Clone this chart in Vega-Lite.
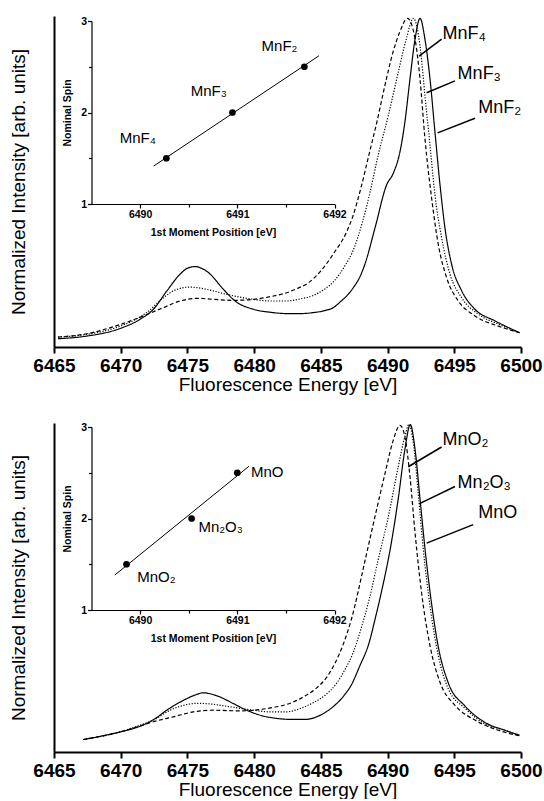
{
  "$schema": "https://vega.github.io/schema/vega-lite/v6.json",
  "padding": {"left": 9, "top": 15, "right": 0, "bottom": 0},
  "spacing": 28,
  "config": {
    "view": {"stroke": null},
    "font": "Liberation Sans",
    "axis": {"grid": false, "domainColor": "black", "tickColor": "black", "labelColor": "black", "titleColor": "black"}
  },
  "datasets": {
    "spec1": [
      {"series": "MnF2", "e": 6465.3, "v": 0.025}, {"series": "MnF2", "e": 6467.46, "v": 0.033}, {"series": "MnF2", "e": 6469.96, "v": 0.056}, {"series": "MnF2", "e": 6471.46, "v": 0.084}, {"series": "MnF2", "e": 6472.45, "v": 0.114}, {"series": "MnF2", "e": 6473.45, "v": 0.169}, {"series": "MnF2", "e": 6474.45, "v": 0.22}, {"series": "MnF2", "e": 6475.0, "v": 0.238}, {"series": "MnF2", "e": 6475.58, "v": 0.243}, {"series": "MnF2", "e": 6476.1, "v": 0.237}, {"series": "MnF2", "e": 6476.57, "v": 0.225}, {"series": "MnF2", "e": 6477.7, "v": 0.174}, {"series": "MnF2", "e": 6478.57, "v": 0.139}, {"series": "MnF2", "e": 6479.94, "v": 0.114}, {"series": "MnF2", "e": 6481.2, "v": 0.105}, {"series": "MnF2", "e": 6482.44, "v": 0.101}, {"series": "MnF2", "e": 6483.5, "v": 0.101}, {"series": "MnF2", "e": 6484.44, "v": 0.104}, {"series": "MnF2", "e": 6485.3, "v": 0.11}, {"series": "MnF2", "e": 6485.94, "v": 0.119}, {"series": "MnF2", "e": 6486.5, "v": 0.138}, {"series": "MnF2", "e": 6486.93, "v": 0.154}, {"series": "MnF2", "e": 6487.43, "v": 0.179}, {"series": "MnF2", "e": 6487.9, "v": 0.21}, {"series": "MnF2", "e": 6488.3, "v": 0.25}, {"series": "MnF2", "e": 6489.06, "v": 0.36}, {"series": "MnF2", "e": 6489.93, "v": 0.49}, {"series": "MnF2", "e": 6490.43, "v": 0.525}, {"series": "MnF2", "e": 6490.93, "v": 0.59}, {"series": "MnF2", "e": 6491.3, "v": 0.68}, {"series": "MnF2", "e": 6491.68, "v": 0.81}, {"series": "MnF2", "e": 6492.06, "v": 0.93}, {"series": "MnF2", "e": 6492.43, "v": 0.993}, {"series": "MnF2", "e": 6492.8, "v": 0.93}, {"series": "MnF2", "e": 6493.18, "v": 0.81}, {"series": "MnF2", "e": 6493.55, "v": 0.65}, {"series": "MnF2", "e": 6493.93, "v": 0.49}, {"series": "MnF2", "e": 6494.3, "v": 0.36}, {"series": "MnF2", "e": 6494.8, "v": 0.25}, {"series": "MnF2", "e": 6495.55, "v": 0.17}, {"series": "MnF2", "e": 6496.55, "v": 0.114}, {"series": "MnF2", "e": 6498.05, "v": 0.079}, {"series": "MnF2", "e": 6499.9, "v": 0.043},
      {"series": "MnF3", "e": 6465.3, "v": 0.03}, {"series": "MnF3", "e": 6467.46, "v": 0.038}, {"series": "MnF3", "e": 6469.96, "v": 0.063}, {"series": "MnF3", "e": 6471.95, "v": 0.104}, {"series": "MnF3", "e": 6473.2, "v": 0.149}, {"series": "MnF3", "e": 6474.2, "v": 0.174}, {"series": "MnF3", "e": 6475.2, "v": 0.181}, {"series": "MnF3", "e": 6476.45, "v": 0.174}, {"series": "MnF3", "e": 6477.95, "v": 0.159}, {"series": "MnF3", "e": 6479.94, "v": 0.144}, {"series": "MnF3", "e": 6481.2, "v": 0.139}, {"series": "MnF3", "e": 6482.44, "v": 0.139}, {"series": "MnF3", "e": 6483.3, "v": 0.144}, {"series": "MnF3", "e": 6484.44, "v": 0.156}, {"series": "MnF3", "e": 6485.3, "v": 0.175}, {"series": "MnF3", "e": 6486.0, "v": 0.2}, {"series": "MnF3", "e": 6486.8, "v": 0.245}, {"series": "MnF3", "e": 6487.4, "v": 0.29}, {"series": "MnF3", "e": 6488.1, "v": 0.375}, {"series": "MnF3", "e": 6488.7, "v": 0.47}, {"series": "MnF3", "e": 6489.3, "v": 0.58}, {"series": "MnF3", "e": 6490.06, "v": 0.7}, {"series": "MnF3", "e": 6490.8, "v": 0.83}, {"series": "MnF3", "e": 6491.4, "v": 0.93}, {"series": "MnF3", "e": 6491.93, "v": 0.993}, {"series": "MnF3", "e": 6492.43, "v": 0.91}, {"series": "MnF3", "e": 6492.8, "v": 0.76}, {"series": "MnF3", "e": 6493.18, "v": 0.61}, {"series": "MnF3", "e": 6493.55, "v": 0.46}, {"series": "MnF3", "e": 6494.05, "v": 0.33}, {"series": "MnF3", "e": 6494.68, "v": 0.22}, {"series": "MnF3", "e": 6495.55, "v": 0.149}, {"series": "MnF3", "e": 6496.8, "v": 0.099}, {"series": "MnF3", "e": 6498.3, "v": 0.069}, {"series": "MnF3", "e": 6499.9, "v": 0.043},
      {"series": "MnF4", "e": 6465.3, "v": 0.03}, {"series": "MnF4", "e": 6467.46, "v": 0.04}, {"series": "MnF4", "e": 6469.96, "v": 0.068}, {"series": "MnF4", "e": 6471.95, "v": 0.098}, {"series": "MnF4", "e": 6473.2, "v": 0.119}, {"series": "MnF4", "e": 6474.45, "v": 0.139}, {"series": "MnF4", "e": 6475.7, "v": 0.147}, {"series": "MnF4", "e": 6476.95, "v": 0.144}, {"series": "MnF4", "e": 6478.45, "v": 0.141}, {"series": "MnF4", "e": 6479.94, "v": 0.144}, {"series": "MnF4", "e": 6481.2, "v": 0.152}, {"series": "MnF4", "e": 6482.44, "v": 0.164}, {"series": "MnF4", "e": 6483.3, "v": 0.178}, {"series": "MnF4", "e": 6484.0, "v": 0.192}, {"series": "MnF4", "e": 6485.0, "v": 0.23}, {"series": "MnF4", "e": 6486.0, "v": 0.285}, {"series": "MnF4", "e": 6486.9, "v": 0.345}, {"series": "MnF4", "e": 6487.4, "v": 0.395}, {"series": "MnF4", "e": 6488.0, "v": 0.48}, {"series": "MnF4", "e": 6488.6, "v": 0.58}, {"series": "MnF4", "e": 6489.2, "v": 0.68}, {"series": "MnF4", "e": 6489.8, "v": 0.79}, {"series": "MnF4", "e": 6490.4, "v": 0.89}, {"series": "MnF4", "e": 6490.9, "v": 0.95}, {"series": "MnF4", "e": 6491.5, "v": 0.993}, {"series": "MnF4", "e": 6492.06, "v": 0.93}, {"series": "MnF4", "e": 6492.43, "v": 0.81}, {"series": "MnF4", "e": 6492.8, "v": 0.63}, {"series": "MnF4", "e": 6493.3, "v": 0.45}, {"series": "MnF4", "e": 6493.8, "v": 0.31}, {"series": "MnF4", "e": 6494.42, "v": 0.21}, {"series": "MnF4", "e": 6495.3, "v": 0.139}, {"series": "MnF4", "e": 6496.55, "v": 0.094}, {"series": "MnF4", "e": 6498.3, "v": 0.063}, {"series": "MnF4", "e": 6499.9, "v": 0.043}
    ],
    "spec2": [
      {"series": "MnO", "e": 6467.2, "v": 0.038}, {"series": "MnO", "e": 6468.5, "v": 0.048}, {"series": "MnO", "e": 6469.96, "v": 0.061}, {"series": "MnO", "e": 6471.0, "v": 0.072}, {"series": "MnO", "e": 6471.95, "v": 0.087}, {"series": "MnO", "e": 6472.7, "v": 0.105}, {"series": "MnO", "e": 6473.45, "v": 0.127}, {"series": "MnO", "e": 6474.7, "v": 0.157}, {"series": "MnO", "e": 6475.5, "v": 0.172}, {"series": "MnO", "e": 6476.2, "v": 0.18}, {"series": "MnO", "e": 6476.8, "v": 0.176}, {"series": "MnO", "e": 6477.45, "v": 0.167}, {"series": "MnO", "e": 6478.45, "v": 0.147}, {"series": "MnO", "e": 6479.44, "v": 0.127}, {"series": "MnO", "e": 6480.94, "v": 0.107}, {"series": "MnO", "e": 6482.94, "v": 0.099}, {"series": "MnO", "e": 6483.8, "v": 0.099}, {"series": "MnO", "e": 6484.69, "v": 0.107}, {"series": "MnO", "e": 6485.5, "v": 0.125}, {"series": "MnO", "e": 6486.18, "v": 0.147}, {"series": "MnO", "e": 6486.8, "v": 0.175}, {"series": "MnO", "e": 6487.3, "v": 0.205}, {"series": "MnO", "e": 6487.9, "v": 0.26}, {"series": "MnO", "e": 6488.6, "v": 0.33}, {"series": "MnO", "e": 6489.1, "v": 0.41}, {"series": "MnO", "e": 6489.56, "v": 0.49}, {"series": "MnO", "e": 6490.3, "v": 0.64}, {"series": "MnO", "e": 6490.8, "v": 0.77}, {"series": "MnO", "e": 6491.3, "v": 0.92}, {"series": "MnO", "e": 6491.7, "v": 0.995}, {"series": "MnO", "e": 6492.06, "v": 0.92}, {"series": "MnO", "e": 6492.43, "v": 0.77}, {"series": "MnO", "e": 6492.8, "v": 0.62}, {"series": "MnO", "e": 6493.3, "v": 0.45}, {"series": "MnO", "e": 6493.8, "v": 0.32}, {"series": "MnO", "e": 6494.55, "v": 0.21}, {"series": "MnO", "e": 6495.8, "v": 0.14}, {"series": "MnO", "e": 6497.3, "v": 0.09}, {"series": "MnO", "e": 6498.8, "v": 0.066}, {"series": "MnO", "e": 6499.9, "v": 0.051},
      {"series": "Mn2O3", "e": 6467.2, "v": 0.038}, {"series": "Mn2O3", "e": 6469.96, "v": 0.061}, {"series": "Mn2O3", "e": 6471.2, "v": 0.078}, {"series": "Mn2O3", "e": 6472.45, "v": 0.097}, {"series": "Mn2O3", "e": 6473.7, "v": 0.127}, {"series": "Mn2O3", "e": 6474.95, "v": 0.144}, {"series": "Mn2O3", "e": 6475.7, "v": 0.148}, {"series": "Mn2O3", "e": 6476.45, "v": 0.147}, {"series": "Mn2O3", "e": 6477.95, "v": 0.139}, {"series": "Mn2O3", "e": 6479.94, "v": 0.127}, {"series": "Mn2O3", "e": 6481.2, "v": 0.122}, {"series": "Mn2O3", "e": 6482.44, "v": 0.122}, {"series": "Mn2O3", "e": 6483.3, "v": 0.13}, {"series": "Mn2O3", "e": 6484.44, "v": 0.15}, {"series": "Mn2O3", "e": 6485.3, "v": 0.172}, {"series": "Mn2O3", "e": 6486.2, "v": 0.21}, {"series": "Mn2O3", "e": 6486.8, "v": 0.25}, {"series": "Mn2O3", "e": 6487.4, "v": 0.3}, {"series": "Mn2O3", "e": 6488.05, "v": 0.38}, {"series": "Mn2O3", "e": 6488.6, "v": 0.46}, {"series": "Mn2O3", "e": 6489.3, "v": 0.585}, {"series": "Mn2O3", "e": 6490.06, "v": 0.716}, {"series": "Mn2O3", "e": 6490.8, "v": 0.867}, {"series": "Mn2O3", "e": 6491.3, "v": 0.96}, {"series": "Mn2O3", "e": 6491.6, "v": 0.995}, {"series": "Mn2O3", "e": 6491.93, "v": 0.94}, {"series": "Mn2O3", "e": 6492.3, "v": 0.786}, {"series": "Mn2O3", "e": 6492.68, "v": 0.615}, {"series": "Mn2O3", "e": 6493.18, "v": 0.444}, {"series": "Mn2O3", "e": 6493.8, "v": 0.293}, {"series": "Mn2O3", "e": 6494.55, "v": 0.192}, {"series": "Mn2O3", "e": 6495.8, "v": 0.133}, {"series": "Mn2O3", "e": 6497.3, "v": 0.085}, {"series": "Mn2O3", "e": 6498.8, "v": 0.066}, {"series": "Mn2O3", "e": 6499.9, "v": 0.049},
      {"series": "MnO2", "e": 6467.2, "v": 0.038}, {"series": "MnO2", "e": 6469.96, "v": 0.061}, {"series": "MnO2", "e": 6471.2, "v": 0.076}, {"series": "MnO2", "e": 6472.45, "v": 0.092}, {"series": "MnO2", "e": 6473.95, "v": 0.107}, {"series": "MnO2", "e": 6475.45, "v": 0.122}, {"series": "MnO2", "e": 6476.95, "v": 0.127}, {"series": "MnO2", "e": 6478.95, "v": 0.125}, {"series": "MnO2", "e": 6480.94, "v": 0.132}, {"series": "MnO2", "e": 6482.94, "v": 0.152}, {"series": "MnO2", "e": 6483.8, "v": 0.17}, {"series": "MnO2", "e": 6484.69, "v": 0.195}, {"series": "MnO2", "e": 6485.4, "v": 0.225}, {"series": "MnO2", "e": 6486.06, "v": 0.27}, {"series": "MnO2", "e": 6486.7, "v": 0.33}, {"series": "MnO2", "e": 6487.3, "v": 0.405}, {"series": "MnO2", "e": 6488.3, "v": 0.58}, {"series": "MnO2", "e": 6489.06, "v": 0.716}, {"series": "MnO2", "e": 6489.81, "v": 0.847}, {"series": "MnO2", "e": 6490.43, "v": 0.948}, {"series": "MnO2", "e": 6490.93, "v": 0.993}, {"series": "MnO2", "e": 6491.3, "v": 0.958}, {"series": "MnO2", "e": 6491.68, "v": 0.837}, {"series": "MnO2", "e": 6492.06, "v": 0.666}, {"series": "MnO2", "e": 6492.55, "v": 0.484}, {"series": "MnO2", "e": 6493.18, "v": 0.323}, {"series": "MnO2", "e": 6493.93, "v": 0.212}, {"series": "MnO2", "e": 6495.05, "v": 0.142}, {"series": "MnO2", "e": 6496.55, "v": 0.097}, {"series": "MnO2", "e": 6498.3, "v": 0.066}, {"series": "MnO2", "e": 6499.9, "v": 0.049}
    ],
    "labels1": [
      {"label": "MnF₄", "e": 6494.12, "v": 0.945},
      {"label": "MnF₃", "e": 6495.25, "v": 0.824},
      {"label": "MnF₂", "e": 6496.8, "v": 0.723}
    ],
    "leaders1": [
      {"e": 6494.05, "v": 0.93, "e2": 6492.36, "v2": 0.879},
      {"e": 6495.05, "v": 0.804, "e2": 6492.93, "v2": 0.768},
      {"e": 6496.55, "v": 0.691, "e2": 6493.75, "v2": 0.647}
    ],
    "labels2": [
      {"label": "MnO₂", "e": 6494.12, "v": 0.948},
      {"label": "Mn₂O₃", "e": 6495.25, "v": 0.817},
      {"label": "MnO", "e": 6496.8, "v": 0.726}
    ],
    "leaders2": [
      {"e": 6494.05, "v": 0.927, "e2": 6491.55, "v2": 0.867},
      {"e": 6495.05, "v": 0.807, "e2": 6492.36, "v2": 0.754},
      {"e": 6496.42, "v": 0.691, "e2": 6492.93, "v2": 0.635}
    ],
    "inset1": [
      {"name": "MnF₄", "moment": 6490.27, "spin": 1.5},
      {"name": "MnF₃", "moment": 6490.95, "spin": 2.0},
      {"name": "MnF₂", "moment": 6491.69, "spin": 2.5}
    ],
    "fit1": [
      {"moment": 6490.14, "spin": 1.415},
      {"moment": 6491.84, "spin": 2.62}
    ],
    "insetlabels1": [
      {"label": "MnF₄", "moment": 6489.79, "spin": 1.72},
      {"label": "MnF₃", "moment": 6490.52, "spin": 2.235},
      {"label": "MnF₂", "moment": 6491.25, "spin": 2.73}
    ],
    "inset2": [
      {"name": "MnO₂", "moment": 6489.86, "spin": 1.5},
      {"name": "Mn₂O₃", "moment": 6490.53, "spin": 2.0},
      {"name": "MnO", "moment": 6491.0, "spin": 2.5}
    ],
    "fit2": [
      {"moment": 6489.74, "spin": 1.382},
      {"moment": 6491.12, "spin": 2.571}
    ],
    "insetlabels2": [
      {"label": "MnO₂", "moment": 6489.97, "spin": 1.36},
      {"label": "Mn₂O₃", "moment": 6490.6, "spin": 1.91},
      {"label": "MnO", "moment": 6491.14, "spin": 2.51}
    ]
  },
  "vconcat": [
    {
      "width": 467,
      "height": 331,
      "layer": [
        {
          "layer": [
            {
              "data": {"name": "spec1"},
              "mark": {"type": "line", "color": "black", "strokeWidth": 1.2, "interpolate": "monotone"},
              "encoding": {
                "x": {"field": "e", "type": "quantitative", "scale": {"domain": [6465, 6500], "nice": false, "zero": false},
                  "axis": {"title": "Fluorescence Energy [eV]", "values": [6465, 6467.5, 6470, 6472.5, 6475, 6477.5, 6480, 6482.5, 6485, 6487.5, 6490, 6492.5, 6495, 6497.5, 6500],
                    "format": "d", "labelExpr": "datum.value % 5 === 0 ? datum.label : ''", "tickSize": {"condition": {"test": "datum.value % 5 === 0", "value": 6}, "value": 4},
                    "domainWidth": 2, "tickWidth": 2, "labelFontSize": 19, "labelFontWeight": "bold", "labelPadding": 3, "labelFlush": false, "labelOverlap": false,
                    "titleFontSize": 19, "titleFontWeight": "normal", "titlePadding": 0}},
                "y": {"field": "v", "type": "quantitative", "scale": {"domain": [0, 1], "nice": false},
                  "axis": {"title": "Normalized Intensity [arb. units]", "ticks": false, "labels": false, "domainWidth": 2, "titleFontSize": 19, "titleFontWeight": "normal", "titlePadding": 26}},
                "strokeDash": {"field": "series", "type": "nominal", "legend": null, "scale": {"domain": ["MnF2", "MnF3", "MnF4"], "range": [[1, 0], [1.2, 1.6], [4, 2.5]]}}
              }
            },
            {
              "data": {"name": "leaders1"},
              "mark": {"type": "rule", "color": "black", "strokeWidth": 1.5},
              "encoding": {
                "x": {"field": "e", "type": "quantitative"},
                "y": {"field": "v", "type": "quantitative"},
                "x2": {"field": "e2"},
                "y2": {"field": "v2"}
              }
            },
            {
              "data": {"name": "labels1"},
              "mark": {"type": "text", "align": "left", "baseline": "middle", "fontSize": 18, "color": "black"},
              "encoding": {
                "x": {"field": "e", "type": "quantitative"},
                "y": {"field": "v", "type": "quantitative"},
                "text": {"field": "label"}
              }
            }
          ]
        },
        {
          "layer": [
            {
              "data": {"name": "fit1"},
              "mark": {"type": "line", "color": "black", "strokeWidth": 1},
              "encoding": {
                "x": {"field": "moment", "type": "quantitative", "scale": {"domain": [6489.5, 6492], "range": [37.5, 280.5], "nice": false, "zero": false},
                  "axis": {"orient": "bottom", "offset": -143, "title": "1st Moment Position [eV]", "values": [6490, 6491, 6492], "format": "d",
                    "tickSize": 4, "domainWidth": 1.2, "tickWidth": 1.2, "labelFontSize": 10.5, "labelFontWeight": "bold",
                    "labelPadding": 1, "labelFlush": false, "labelOverlap": false, "titleFontSize": 10.5, "titleFontWeight": "bold", "titlePadding": 8}},
                "y": {"field": "spin", "type": "quantitative", "scale": {"domain": [1, 3], "range": [188, 5], "nice": false, "zero": false},
                  "axis": {"orient": "left", "offset": -37.5, "title": "Nominal Spin", "values": [1, 3], "format": "d",
                    "tickSize": 4, "domainWidth": 1.2, "tickWidth": 1.2, "labelFontSize": 10.5, "labelFontWeight": "bold",
                    "labelPadding": 1, "labelOverlap": false, "titleFontSize": 10.5, "titleFontWeight": "bold", "titlePadding": 8}}
              }
            },
            {
              "data": {"name": "inset1"},
              "mark": {"type": "point", "filled": true, "color": "black", "size": 45, "opacity": 1},
              "encoding": {
                "x": {"field": "moment", "type": "quantitative"},
                "y": {"field": "spin", "type": "quantitative"}
              }
            },
            {
              "data": {"name": "insetlabels1"},
              "mark": {"type": "text", "align": "left", "baseline": "middle", "fontSize": 15, "color": "black"},
              "encoding": {
                "x": {"field": "moment", "type": "quantitative"},
                "y": {"field": "spin", "type": "quantitative"},
                "text": {"field": "label"}
              }
            }
          ]
        },
        {
          "data": {"name": "fit1"},
          "mark": {"type": "point", "opacity": 0},
          "encoding": {
            "x": {"field": "moment", "type": "quantitative", "scale": {"domain": [6489.5, 6492], "range": [37.5, 280.5], "nice": false, "zero": false},
              "axis": {"orient": "bottom", "offset": -143, "title": null, "values": [6490.5, 6491.5], "labels": false, "domain": false, "tickSize": 3, "tickWidth": 1.2}},
            "y": {"field": "spin", "type": "quantitative", "scale": {"domain": [1, 3], "range": [188, 5], "nice": false, "zero": false},
              "axis": {"orient": "left", "offset": -37.5, "title": null, "values": [1.5, 2.5], "labels": false, "domain": false, "tickSize": 3, "tickWidth": 1.2}}
          }
        },
        {
          "data": {"name": "fit1"},
          "mark": {"type": "point", "opacity": 0},
          "encoding": {
            "x": {"field": "moment", "type": "quantitative", "scale": {"domain": [6489.5, 6492], "range": [37.5, 280.5], "nice": false, "zero": false}, "axis": null},
            "y": {"field": "spin", "type": "quantitative", "scale": {"domain": [1, 3], "range": [188, 5], "nice": false, "zero": false},
              "axis": {"orient": "left", "offset": -37.5, "title": null, "values": [2], "format": "d", "domain": false, "tickSize": 4, "tickWidth": 1.2,
                "labelFontSize": 10.5, "labelFontWeight": "bold", "labelPadding": 1, "labelOverlap": false}}
          }
        }
      ],
      "resolve": {"scale": {"x": "independent", "y": "independent"}, "axis": {"x": "independent", "y": "independent"}}
    },
    {
      "width": 467,
      "height": 329,
      "layer": [
        {
          "layer": [
            {
              "data": {"name": "spec2"},
              "mark": {"type": "line", "color": "black", "strokeWidth": 1.2, "interpolate": "monotone"},
              "encoding": {
                "x": {"field": "e", "type": "quantitative", "scale": {"domain": [6465, 6500], "nice": false, "zero": false},
                  "axis": {"title": "Fluorescence Energy [eV]", "values": [6465, 6467.5, 6470, 6472.5, 6475, 6477.5, 6480, 6482.5, 6485, 6487.5, 6490, 6492.5, 6495, 6497.5, 6500],
                    "format": "d", "labelExpr": "datum.value % 5 === 0 ? datum.label : ''", "tickSize": {"condition": {"test": "datum.value % 5 === 0", "value": 6}, "value": 4},
                    "domainWidth": 2, "tickWidth": 2, "labelFontSize": 19, "labelFontWeight": "bold", "labelPadding": 3, "labelFlush": false, "labelOverlap": false,
                    "titleFontSize": 19, "titleFontWeight": "normal", "titlePadding": 0}},
                "y": {"field": "v", "type": "quantitative", "scale": {"domain": [0, 1], "nice": false},
                  "axis": {"title": "Normalized Intensity [arb. units]", "ticks": false, "labels": false, "domainWidth": 2, "titleFontSize": 19, "titleFontWeight": "normal", "titlePadding": 26}},
                "strokeDash": {"field": "series", "type": "nominal", "legend": null, "scale": {"domain": ["MnO", "Mn2O3", "MnO2"], "range": [[1, 0], [1.2, 1.6], [4, 2.5]]}}
              }
            },
            {
              "data": {"name": "leaders2"},
              "mark": {"type": "rule", "color": "black", "strokeWidth": 1.5},
              "encoding": {
                "x": {"field": "e", "type": "quantitative"},
                "y": {"field": "v", "type": "quantitative"},
                "x2": {"field": "e2"},
                "y2": {"field": "v2"}
              }
            },
            {
              "data": {"name": "labels2"},
              "mark": {"type": "text", "align": "left", "baseline": "middle", "fontSize": 18, "color": "black"},
              "encoding": {
                "x": {"field": "e", "type": "quantitative"},
                "y": {"field": "v", "type": "quantitative"},
                "text": {"field": "label"}
              }
            }
          ]
        },
        {
          "layer": [
            {
              "data": {"name": "fit2"},
              "mark": {"type": "line", "color": "black", "strokeWidth": 1},
              "encoding": {
                "x": {"field": "moment", "type": "quantitative", "scale": {"domain": [6489.5, 6492], "range": [37.5, 280.5], "nice": false, "zero": false},
                  "axis": {"orient": "bottom", "offset": -142, "title": "1st Moment Position [eV]", "values": [6490, 6491, 6492], "format": "d",
                    "tickSize": 4, "domainWidth": 1.2, "tickWidth": 1.2, "labelFontSize": 10.5, "labelFontWeight": "bold",
                    "labelPadding": 1, "labelFlush": false, "labelOverlap": false, "titleFontSize": 10.5, "titleFontWeight": "bold", "titlePadding": 8}},
                "y": {"field": "spin", "type": "quantitative", "scale": {"domain": [1, 3], "range": [187, 4], "nice": false, "zero": false},
                  "axis": {"orient": "left", "offset": -37.5, "title": "Nominal Spin", "values": [1, 3], "format": "d",
                    "tickSize": 4, "domainWidth": 1.2, "tickWidth": 1.2, "labelFontSize": 10.5, "labelFontWeight": "bold",
                    "labelPadding": 1, "labelOverlap": false, "titleFontSize": 10.5, "titleFontWeight": "bold", "titlePadding": 8}}
              }
            },
            {
              "data": {"name": "inset2"},
              "mark": {"type": "point", "filled": true, "color": "black", "size": 45, "opacity": 1},
              "encoding": {
                "x": {"field": "moment", "type": "quantitative"},
                "y": {"field": "spin", "type": "quantitative"}
              }
            },
            {
              "data": {"name": "insetlabels2"},
              "mark": {"type": "text", "align": "left", "baseline": "middle", "fontSize": 15, "color": "black"},
              "encoding": {
                "x": {"field": "moment", "type": "quantitative"},
                "y": {"field": "spin", "type": "quantitative"},
                "text": {"field": "label"}
              }
            }
          ]
        },
        {
          "data": {"name": "fit2"},
          "mark": {"type": "point", "opacity": 0},
          "encoding": {
            "x": {"field": "moment", "type": "quantitative", "scale": {"domain": [6489.5, 6492], "range": [37.5, 280.5], "nice": false, "zero": false},
              "axis": {"orient": "bottom", "offset": -142, "title": null, "values": [6490.5, 6491.5], "labels": false, "domain": false, "tickSize": 3, "tickWidth": 1.2}},
            "y": {"field": "spin", "type": "quantitative", "scale": {"domain": [1, 3], "range": [187, 4], "nice": false, "zero": false},
              "axis": {"orient": "left", "offset": -37.5, "title": null, "values": [1.5, 2.5], "labels": false, "domain": false, "tickSize": 3, "tickWidth": 1.2}}
          }
        },
        {
          "data": {"name": "fit2"},
          "mark": {"type": "point", "opacity": 0},
          "encoding": {
            "x": {"field": "moment", "type": "quantitative", "scale": {"domain": [6489.5, 6492], "range": [37.5, 280.5], "nice": false, "zero": false}, "axis": null},
            "y": {"field": "spin", "type": "quantitative", "scale": {"domain": [1, 3], "range": [187, 4], "nice": false, "zero": false},
              "axis": {"orient": "left", "offset": -37.5, "title": null, "values": [2], "format": "d", "domain": false, "tickSize": 4, "tickWidth": 1.2,
                "labelFontSize": 10.5, "labelFontWeight": "bold", "labelPadding": 1, "labelOverlap": false}}
          }
        }
      ],
      "resolve": {"scale": {"x": "independent", "y": "independent"}, "axis": {"x": "independent", "y": "independent"}}
    }
  ]
}
